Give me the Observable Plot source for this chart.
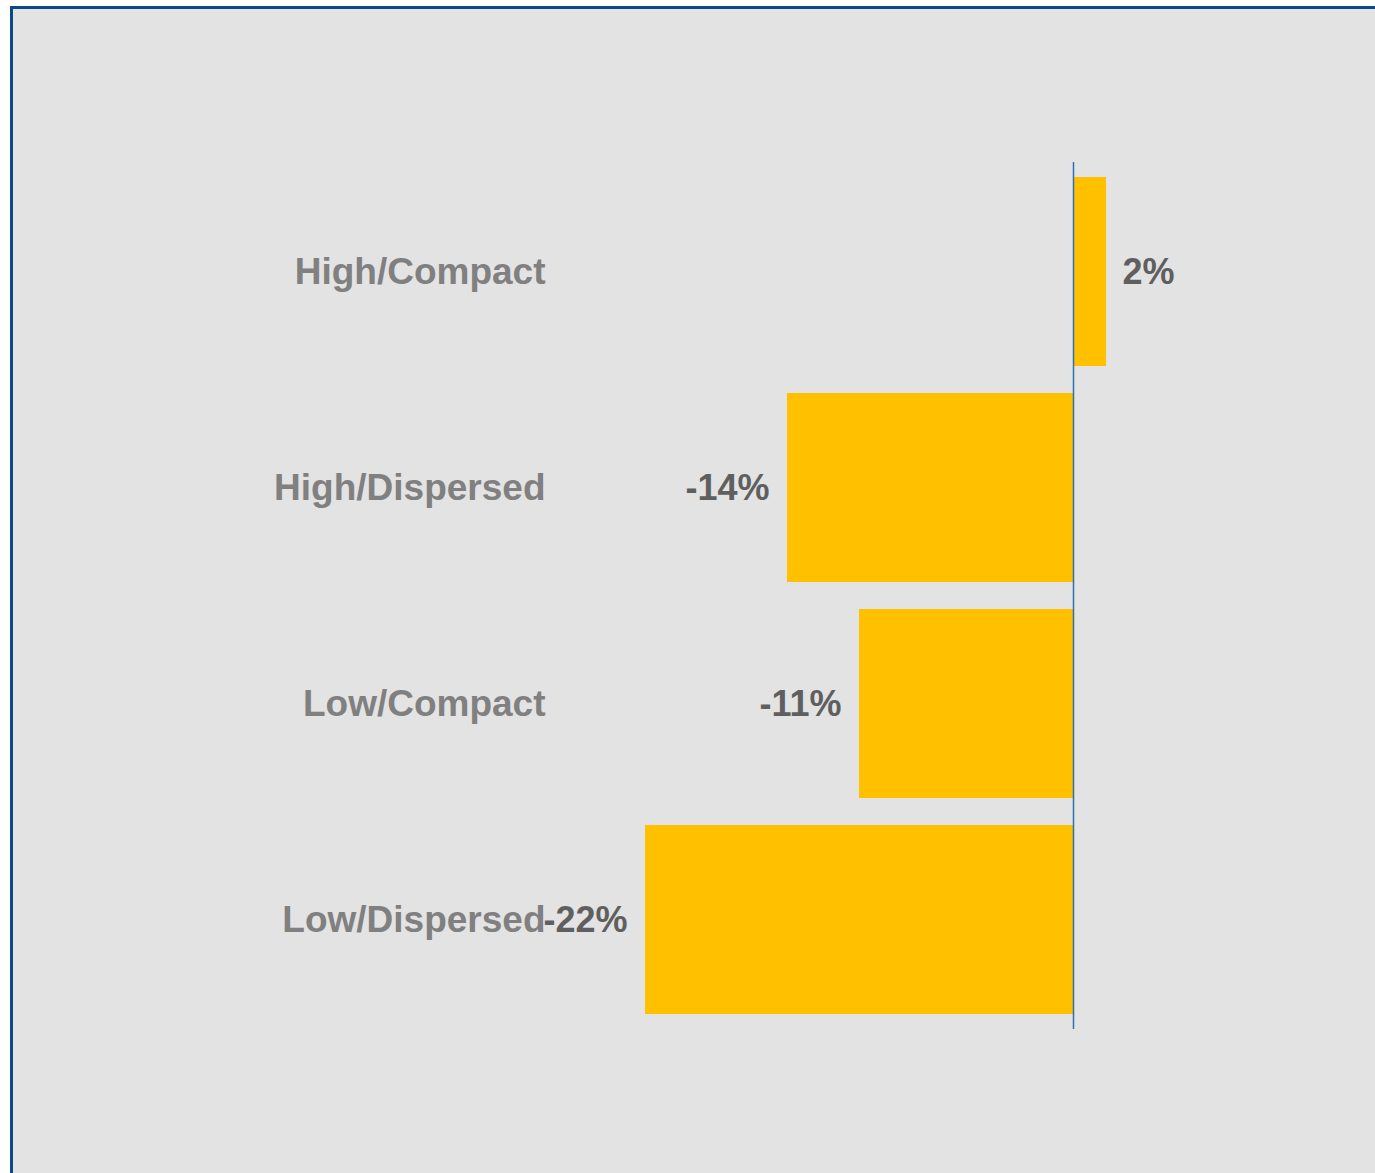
<!DOCTYPE html>
<html>
<head>
<meta charset="utf-8">
<script src="https://cdn.jsdelivr.net/npm/d3@7"></script>
<script src="https://cdn.jsdelivr.net/npm/@observablehq/plot@0.6"></script>
<style>
  html, body { margin: 0; padding: 0; background: #ffffff; }
  #frame {
    position: absolute; left: 10px; top: 6px; width: 1380px; height: 1180px;
    background: #e3e3e3; border-left: 3px solid #0b4a87; border-top: 3px solid #0b4a87;
  }
  #chart { position: absolute; left: 0; top: 0; }
  #chart svg { background: transparent; font-family: "Liberation Sans", Arial, sans-serif; }
</style>
</head>
<body>
<div id="frame"></div>
<div id="chart"></div>
<script>
const categories = ["High/Compact", "High/Dispersed", "Low/Compact", "Low/Dispersed"];
const values = [0.017, -0.147, -0.11, -0.22];
const valueLabels = ["2%", "-14%", "-11%", "-22%"];

const data = categories.map((c, i) => ({category: c, value: values[i], label: valueLabels[i]}));

const chart = Plot.plot({
  width: 1375,
  height: 1173,
  marginLeft: 560,
  marginRight: 100,
  marginTop: 162,
  marginBottom: 144,
  x: {domain: [-0.22, 0], range: [645, 1073], axis: null},
  y: {domain: categories, paddingInner: 0.125, paddingOuter: 0.0625, label: null},
  style: {background: "transparent"},
  marks: [
    Plot.barX(data, {x: "value", y: "category", fill: "#ffc000"}),
    Plot.ruleX([0], {stroke: "#2e6fb0", strokeWidth: 1.5}),
    Plot.axisY({tickSize: 0, tickPadding: 15, fontSize: 37, fontWeight: "bold", fill: "#808080", label: null}),
    Plot.text(data.filter(d => d.value >= 0), {x: "value", y: "category", text: "label", textAnchor: "start", dx: 16, fontSize: 36, fontWeight: "bold", fill: "#5f5f5f"}),
    Plot.text(data.filter(d => d.value < 0), {x: "value", y: "category", text: "label", textAnchor: "end", dx: -18, fontSize: 36, fontWeight: "bold", fill: "#5f5f5f"})
  ]
});
document.getElementById("chart").appendChild(chart);
</script>
</body>
</html>
